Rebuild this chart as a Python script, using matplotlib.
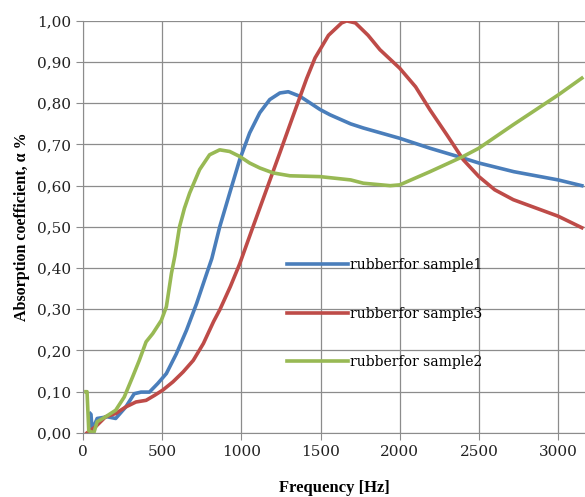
import matplotlib
matplotlib.use("Agg")
import matplotlib.pyplot as plt
from matplotlib.ticker import FuncFormatter, MultipleLocator

# sample 1 (blue)
freq_s1 = [45, 50, 57, 89, 153, 206, 270, 323, 366, 419, 472, 526, 589, 653,
           717, 781, 813, 863, 926, 989, 1052, 1116, 1179, 1243, 1296, 1369,
           1433, 1496, 1560, 1690, 1770, 2000, 2190, 2400, 2500, 2720, 3000, 3150]
abs_s1 = [0.047, 0.045, 0.006, 0.035, 0.039, 0.035, 0.063, 0.095, 0.099, 0.099,
          0.12, 0.144, 0.192, 0.249, 0.314, 0.387, 0.423, 0.50, 0.582, 0.663,
          0.728, 0.777, 0.809, 0.825, 0.828, 0.817, 0.801, 0.785, 0.772, 0.75,
          0.74, 0.715, 0.691, 0.667, 0.655, 0.634, 0.614, 0.60]

# sample 3 (red)
freq_s3 = [25, 79, 142, 206, 270, 334, 398, 451, 504, 568, 632, 696, 760, 824,
           865, 930, 989, 1073, 1158, 1243, 1327, 1412, 1465, 1550, 1633, 1665,
           1720, 1800, 1875, 2000, 2100, 2191, 2300, 2401, 2500, 2600, 2717,
           3000, 3150]
abs_s3 = [0.0, 0.015, 0.039, 0.047, 0.063, 0.075, 0.079, 0.091, 0.104, 0.124,
          0.148, 0.176, 0.217, 0.27, 0.30, 0.355, 0.41, 0.50, 0.59, 0.68, 0.77,
          0.86, 0.91, 0.965, 0.995, 1.0, 0.995, 0.965, 0.93, 0.885, 0.84, 0.784,
          0.722, 0.663, 0.622, 0.59, 0.566, 0.526, 0.498]

# sample 2 (green)
freq_s2 = [18, 25, 36, 68, 89, 142, 206, 260, 313, 355, 398, 440, 494, 526, 558,
           580, 609, 640, 673, 736, 799, 863, 926, 989, 1052, 1116, 1200, 1306,
           1496, 1690, 1770, 1940, 2000, 2191, 2401, 2500, 2717, 3000, 3150]
abs_s2 = [0.10, 0.10, 0.005, 0.0, 0.027, 0.039, 0.055, 0.087, 0.136, 0.176,
          0.221, 0.241, 0.273, 0.306, 0.387, 0.43, 0.50, 0.545, 0.582, 0.639,
          0.675, 0.687, 0.683, 0.671, 0.655, 0.643, 0.631, 0.624, 0.622, 0.614,
          0.606, 0.60, 0.602, 0.634, 0.671, 0.691, 0.748, 0.82, 0.861]

series = [
    ("rubberfor sample1", freq_s1, abs_s1, "#4a7ebb"),
    ("rubberfor sample3", freq_s3, abs_s3, "#be4b48"),
    ("rubberfor sample2", freq_s2, abs_s2, "#98b954"),
]

fig = plt.figure(figsize=(5.85, 4.97), dpi=100)
ax = fig.add_axes([0.142, 0.129, 0.858, 0.829])

for name, f, a, c in series:
    ax.plot(f, a, color=c, lw=2.6, label=name, solid_joinstyle="round")

ax.set_xlim(0, 3170)
ax.set_ylim(0, 1.0)
ax.xaxis.set_major_locator(MultipleLocator(500))
ax.yaxis.set_major_locator(MultipleLocator(0.1))
ax.yaxis.set_major_formatter(FuncFormatter(lambda v, p: f"{v:.2f}".replace(".", ",")))

ax.grid(True, color="#8c8c8c", lw=0.9)
ax.set_axisbelow(True)
for s in ["top", "right"]:
    ax.spines[s].set_visible(False)
for s in ["left", "bottom"]:
    ax.spines[s].set_color("#8c8c8c")
ax.tick_params(colors="#8c8c8c", length=5, labelcolor="#222222", direction="out")
for lab in ax.get_xticklabels() + ax.get_yticklabels():
    lab.set_fontfamily("DejaVu Serif")
    lab.set_fontsize(11)

ax.set_xlabel("Frequency [Hz]", family="Liberation Serif", weight="bold",
              fontsize=12, labelpad=15)
ax.set_ylabel("Absorption coefficient, α %", family="Liberation Serif",
              weight="bold", fontsize=11.5, labelpad=5)

ax.legend(loc="upper left", bbox_to_anchor=(0.406, 0.425), frameon=False,
          borderaxespad=0, borderpad=0, handlelength=4.4, handletextpad=0.15,
          labelspacing=2.5, prop={"family": "DejaVu Serif", "size": 10})

fig.savefig("out.png", dpi=100)
